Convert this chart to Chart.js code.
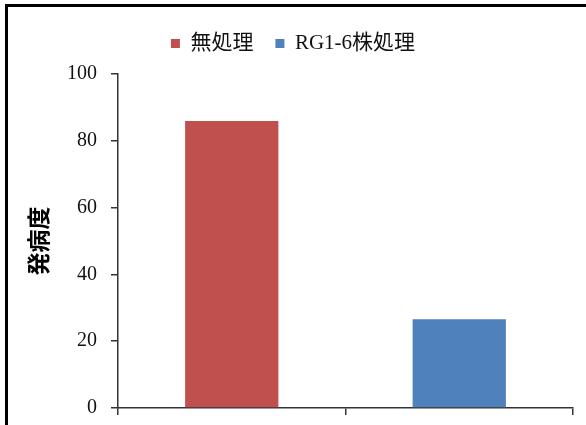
<!DOCTYPE html>
<html>
<head>
<meta charset="utf-8">
<script src="https://cdn.jsdelivr.net/npm/chart.js@4"></script>
<style>
    html, body { margin: 0; padding: 0; background: #fff; }
    #wrap { position: relative; width: 586px; height: 425px; overflow: hidden; }
    #frame {
        position: absolute; left: 5px; top: 4px; width: 700px; height: 500px;
        border-left: 3px solid #000; border-top: 3px solid #000;
        pointer-events: none;
    }
</style>
</head>
<body>
<div id="wrap">
    <canvas id="diseaseChart" width="586" height="425"></canvas>
    <div id="frame"></div>
</div>
<script>
// 発病度 by treatment
const categories = ['無処理', 'RG1-6株処理'];
const seriesNames = ['無処理', 'RG1-6株処理'];
const untreated = [85.9, null];
const rg16 = [null, 26.6];
const yTicks = [0, 20, 40, 60, 80, 100];
const colors = ['#c0504d', '#4f81bd'];

const font = "'Liberation Serif', 'Noto Sans CJK JP', serif";

// fix the legend block height so the plot area lands where we want it
const legendHeight = {
    id: 'legendHeight',
    beforeInit(chart) {
        const fit = chart.legend.fit;
        chart.legend.fit = function () {
            fit.call(this);
            this.height = 63;
        };
    }
};

var ctx = document.getElementById('diseaseChart').getContext('2d');
var chart = new Chart(ctx, {
    type: 'bar',
    data: {
        labels: categories,
        datasets: [{
            label: seriesNames[0],
            data: untreated,
            backgroundColor: colors[0]
        }, {
            label: seriesNames[1],
            data: rg16,
            backgroundColor: colors[1]
        }]
    },
    options: {
        responsive: false,
        animation: false,
        grouped: false,
        barPercentage: 0.41,
        categoryPercentage: 1,
        layout: {
            padding: { top: 11, right: 13, bottom: 0, left: 13 }
        },
        plugins: {
            tooltip: { enabled: false },
            legend: {
                position: 'top',
                labels: {
                    boxWidth: 9,
                    boxHeight: 9,
                    padding: 22,
                    color: '#111',
                    font: { family: font, size: 21 }
                }
            }
        },
        scales: {
            x: {
                afterFit(s) { s.height = 17; },
                grid: {
                    offset: true,
                    drawOnChartArea: false,
                    drawTicks: true,
                    tickLength: 7,
                    color: '#333',
                    lineWidth: 1.5
                },
                border: { color: '#333', width: 1.5 },
                ticks: { display: false }
            },
            y: {
                min: 0,
                max: 100,
                afterFit(s) {
                    s.width = 105;
                    // labels may hang over the ends, don't shrink the plot for them
                    s.paddingTop = 0;
                    s.paddingBottom = 0;
                },
                afterBuildTicks(s) { s.ticks = yTicks.map(v => ({ value: v })); },
                grid: {
                    drawOnChartArea: false,
                    drawTicks: true,
                    tickLength: 7,
                    color: '#333',
                    lineWidth: 1.5
                },
                border: { color: '#333', width: 1.5 },
                ticks: {
                    padding: 14,
                    color: '#111',
                    font: { family: font, size: 20 }
                },
                title: {
                    display: true,
                    text: '発病度',
                    color: '#000',
                    padding: { top: 11, bottom: 0 },
                    font: { family: "'Noto Sans CJK JP', sans-serif", size: 23, weight: 'bold' }
                }
            }
        }
    },
    plugins: [legendHeight]
});
</script>
</body>
</html>
